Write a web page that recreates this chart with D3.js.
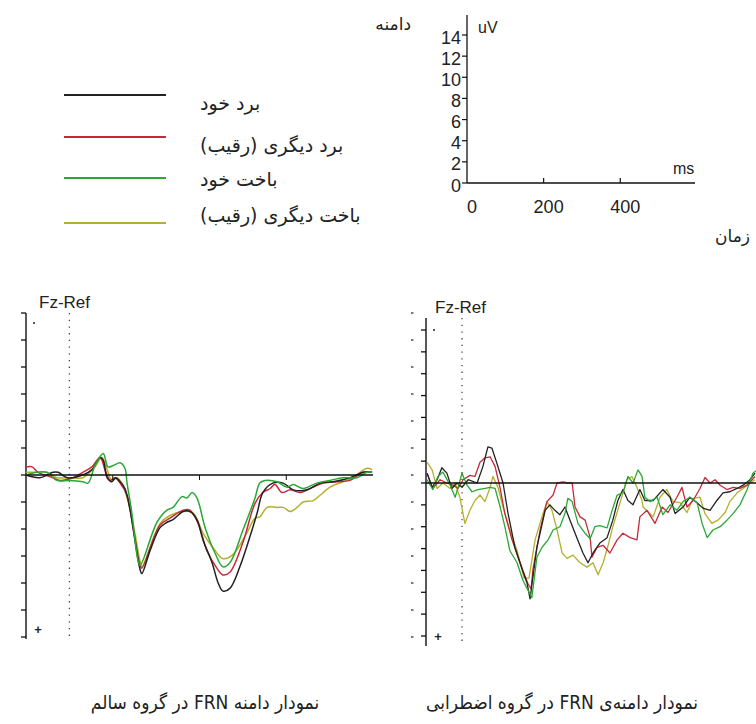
<!DOCTYPE html>
<html>
<head>
<meta charset="utf-8">
<script src="https://cdn.jsdelivr.net/npm/d3@7"></script>
<style>
body { margin: 0; background: #fff; }
svg { display: block; }
.fa { font-family: "DejaVu Sans", sans-serif; direction: rtl; }
.fa-narrow { font-family: "DejaVu Sans Condensed", "DejaVu Sans", sans-serif; direction: rtl; }
.lat { font-family: "Liberation Sans", Arial, sans-serif; }
</style>
</head>
<body>
<div id="chart"></div>
<script>
// scale reference (top right)
const refTimeTicks = [0, 200, 400];
const refAmpTicks = [0, 2, 4, 6, 8, 10, 12, 14];

// legend
const conditions = ["برد خود", "برد دیگری (رقیب)", "باخت خود", "باخت دیگری (رقیب)"];
const conditionColors = ["#222222", "#c8283c", "#2aa836", "#b4b02c"];

// panel axes (ms / uV, negative up)
const healthyAmpTicks = [-12, -10, -8, -6, -4, -2, 0, 2, 4, 6, 8, 10, 12];
const anxiousAmpTicks = [-14, -12, -10, -8, -6, -4, -2, 0, 2, 4, 6, 8, 10, 12, 14];
const healthyTimeTicks = [100, 300, 500];

// healthy group, [ms, uV]
const healthyWinSelf = [[-100,0],[-68,0.2],[-38,-0.2],[-26,-0.2],[-5,0.2],[31,0],[52,-0.4],[71,-1.3],[78,-1.1],[87,0.2],[98,0.5],[107,0.2],[117,0.5],[128,1.0],[140,2.6],[151,4.8],[163,7.0],[167,7.3],[186,5.6],[209,3.9],[225,3.5],[239,3.3],[262,2.7],[278,2.7],[294,3.3],[308,4.8],[329,6.5],[343,8.0],[354,8.6],[370,8.4],[393,6.8],[416,4.6],[433,2.8],[446,1.3],[469,0.6],[493,0.6],[516,1.1],[548,1.1],[578,0.6],[608,0.5],[647,0.2],[677,-0.2],[698,-0.2]];
const healthyWinOther = [[-100,-0.6],[-86,-0.6],[-72,-0.2],[-38,0.2],[-22,0.4],[8,0.2],[31,-0.2],[52,-0.6],[71,-1.3],[82,-0.4],[94,0.4],[105,0.2],[117,0.6],[133,1.5],[147,3.9],[163,6.7],[167,6.9],[209,3.7],[232,3.2],[262,2.6],[278,2.6],[297,3.6],[317,5.6],[340,6.9],[354,7.4],[370,7.2],[400,5.0],[428,2.1],[446,1.3],[463,1.0],[474,0.7],[490,1.3],[509,1.1],[532,1.3],[562,0.9],[585,0.6],[617,0.5],[647,0.4],[677,-0.2],[698,-0.2]];
const healthyLoseSelf = [[-100,0],[-75,-0.2],[-52,-0.2],[-29,0.4],[1,0.4],[31,0.5],[43,0.6],[59,-0.7],[78,-1.6],[89,-0.6],[101,-0.7],[117,-0.9],[128,-0.5],[133,0.6],[144,2.8],[158,6.3],[163,6.7],[202,3.5],[225,2.6],[239,2.4],[260,1.6],[271,1.7],[283,1.3],[294,1.7],[313,3.9],[336,5.8],[354,6.8],[370,6.5],[400,4.1],[428,1.7],[439,0.6],[451,0.4],[479,0.5],[502,0.9],[516,0.7],[539,1.0],[570,0.6],[601,0.4],[631,0.2],[663,0.2],[686,-0.2],[698,-0.2]];
const healthyLoseOther = [[-100,-0.2],[-75,-0.2],[-52,-0.2],[-29,0.2],[1,0.2],[31,0.2],[59,-0.6],[75,-1.3],[87,-0.4],[98,0.4],[110,0.2],[121,0.6],[135,1.9],[151,4.3],[163,6.4],[167,6.8],[209,3.6],[232,3.0],[262,2.7],[285,2.8],[308,4.3],[336,5.6],[354,6.2],[377,5.9],[409,4.3],[428,3.2],[439,3.1],[456,2.4],[479,2.4],[493,2.4],[509,2.7],[525,2.4],[539,2.0],[562,1.9],[578,1.5],[601,0.9],[631,0.5],[654,0.2],[670,-0.2],[686,-0.5],[698,-0.4]];

// anxious group, [ms, uV]
const anxiousWinSelf = [[-97,-0.9],[-83,0.4],[-69,-0.3],[-56,-1.4],[-42,-0.9],[-28,0.5],[-14,0],[0,0.4],[17,-0.3],[42,0],[58,-1.5],[72,-3.3],[83,-3.2],[97,-1.8],[114,0],[128,2.8],[147,5.9],[161,7.3],[181,9.2],[189,10.6],[208,5.9],[231,2.5],[244,2.0],[258,2.5],[272,2.9],[286,2.2],[300,3.4],[319,5.0],[336,6.4],[350,7.3],[364,6.4],[383,5.5],[403,5.0],[419,3.4],[433,1.6],[447,0.6],[461,1.6],[475,2.0],[494,0.6],[508,1.6],[531,1.6],[558,0.6],[578,1.3],[592,2.8],[614,2.2],[633,1.3],[653,1.8],[669,2.3],[689,2.5],[708,1.6],[725,0.9],[744,0.8],[764,0.5],[781,0.2],[800,-0.3],[814,-0.9]];
const anxiousWinOther = [[-97,-0.9],[-81,0.5],[-61,-0.3],[-42,0],[-25,0.2],[-11,0.5],[3,-0.3],[22,-0.7],[36,-0.6],[50,-1.9],[64,-2.3],[78,-2.4],[92,-1.5],[106,0.5],[119,2.8],[139,5.2],[156,6.8],[169,8.0],[183,9.2],[192,9.7],[197,7.9],[217,4.3],[236,1.7],[253,1.1],[264,0],[281,-0.1],[294,0],[306,0],[314,2.2],[328,3.1],[342,3.4],[356,5.0],[361,6.8],[375,5.9],[392,5.7],[411,6.4],[431,5.2],[447,4.6],[467,5.0],[486,5.2],[494,3.1],[514,2.5],[536,3.7],[556,2.2],[572,2.7],[597,1.3],[611,0.4],[625,2.2],[642,1.6],[661,0.5],[675,-0.5],[689,0],[703,-0.3],[717,0.2],[736,0.6],[753,0.4],[772,0.5],[792,0.2],[814,-0.6]];
const anxiousLoseSelf = [[-97,-0.3],[-81,0.6],[-67,-0.6],[-53,-1.0],[-33,0.2],[-19,1.3],[-11,0.4],[0,-0.9],[14,0.2],[28,0.8],[44,0.6],[64,0.5],[78,0.4],[92,0.5],[106,2.2],[119,4.0],[133,6.2],[153,7.3],[169,8.9],[183,9.8],[194,10.5],[208,6.8],[222,5.9],[239,5.2],[253,4.3],[272,4.0],[286,2.8],[294,1.4],[306,1.7],[322,3.7],[342,4.6],[356,5.1],[369,4.0],[383,3.9],[403,4.1],[417,2.5],[431,1.1],[447,0.9],[461,-0.6],[475,0],[489,-1.2],[500,-0.6],[508,1.3],[522,1.7],[542,1.3],[558,2.9],[578,2.0],[597,2.5],[614,1.7],[633,1.3],[653,1.8],[667,3.7],[681,5.0],[697,4.3],[717,4.0],[736,3.4],[753,2.8],[772,2.0],[792,0.6],[808,-0.9],[820,-1.2]];
const anxiousLoseOther = [[-97,-1.9],[-83,-1.2],[-69,0.5],[-53,0],[-33,0.5],[-19,0],[-6,1.3],[8,3.7],[22,2.5],[36,1.6],[50,1.1],[64,1.7],[78,0.4],[86,-0.6],[100,0.4],[114,2.2],[133,4.3],[153,6.2],[167,8.0],[172,8.7],[186,8.7],[203,5.2],[222,3.1],[236,1.7],[250,2.5],[264,4.3],[278,6.4],[292,6.9],[308,6.6],[328,7.3],[347,7.7],[364,7.3],[378,8.4],[392,7.3],[406,5.7],[419,4.0],[439,1.8],[458,-0.3],[472,-0.6],[486,0.4],[500,1.6],[503,2.2],[531,3.1],[550,1.3],[569,0.6],[586,1.7],[606,1.8],[625,2.7],[642,1.4],[661,1.3],[675,2.8],[694,3.7],[711,3.4],[731,2.7],[744,1.7],[764,0.9],[781,0.5],[800,0],[814,-0.3]];

const panelTitles = ["نمودار دامنه FRN در گروه سالم", "نمودار دامنه\u200cی FRN در گروه اضطرابی"];

var width = 756, height = 724;
var svg = d3.select("#chart").append("svg")
    .attr("width", width)
    .attr("height", height);

// ---------- scale reference ----------
var xr = d3.scaleLinear().domain([0, 595]).range([467, 695]);
var yr = d3.scaleLinear().domain([0, 14]).range([183, 35]);
var ref = svg.append("g").attr("class", "lat");

ref.append("line").attr("x1", xr(0)).attr("x2", xr(0)).attr("y1", 15).attr("y2", yr(0))
    .attr("stroke", "#111").attr("stroke-width", 1.3);
ref.append("line").attr("x1", xr(0)).attr("x2", xr(595)).attr("y1", yr(0)).attr("y2", yr(0))
    .attr("stroke", "#111").attr("stroke-width", 1.3);

ref.selectAll(".ytick").data(refAmpTicks).enter().append("line")
    .attr("x1", xr(0) - 5).attr("x2", xr(0))
    .attr("y1", d => yr(d)).attr("y2", d => yr(d))
    .attr("stroke", "#111").attr("stroke-width", 1.2);
ref.selectAll(".ylab").data(refAmpTicks).enter().append("text")
    .attr("x", xr(0) - 6).attr("y", d => yr(d) + 8.5)
    .attr("text-anchor", "end").attr("font-size", 18).attr("fill", "#222")
    .text(d => d);

ref.selectAll(".xtick").data(refTimeTicks.slice(1)).enter().append("line")
    .attr("x1", d => xr(d)).attr("x2", d => xr(d))
    .attr("y1", yr(0) - 5).attr("y2", yr(0))
    .attr("stroke", "#111").attr("stroke-width", 1.2);
ref.selectAll(".xlab").data(refTimeTicks).enter().append("text")
    .attr("x", d => xr(d) + 5).attr("y", 213)
    .attr("text-anchor", "middle").attr("font-size", 18).attr("fill", "#222")
    .text(d => d);

ref.append("text").attr("x", 478).attr("y", 33).attr("font-size", 16).attr("fill", "#222").text("uV");
ref.append("text").attr("x", 673).attr("y", 174).attr("font-size", 16).attr("fill", "#222").text("ms");

svg.append("text").attr("class", "fa").attr("x", 411).attr("y", 30)
    .attr("font-size", 17).attr("fill", "#222")
    .text("دامنه");
svg.append("text").attr("class", "fa").attr("x", 750).attr("y", 242)
    .attr("font-size", 17).attr("fill", "#222")
    .text("زمان");

// ---------- legend ----------
var legendY = [95, 137, 178, 223];
var legendTextY = [110, 152, 186, 222];
var legend = svg.append("g");
legend.selectAll("line").data(conditions).enter().append("line")
    .attr("x1", 64).attr("x2", 166)
    .attr("y1", (d, i) => legendY[i]).attr("y2", (d, i) => legendY[i])
    .attr("stroke", (d, i) => conditionColors[i]).attr("stroke-width", 2);
legend.selectAll("text").data(conditions).enter().append("text")
    .attr("class", "fa")
    .attr("x", 200).attr("y", (d, i) => legendTextY[i])
    .attr("text-anchor", "end")
    .attr("font-size", 19).attr("fill", "#222")
    .text(d => d);

// ---------- ERP panels ----------
function drawPanel(opt) {
    var g = svg.append("g");
    var x = opt.x, y = opt.y;
    var x0 = x.range()[0];

    // stimulus onset
    g.append("line").attr("x1", x(0)).attr("x2", x(0))
        .attr("y1", opt.top).attr("y2", opt.bottom)
        .attr("stroke", "#444").attr("stroke-width", 1.3)
        .attr("stroke-dasharray", "1.3,5.4");

    // vertical axis
    g.append("line").attr("x1", x0).attr("x2", x0)
        .attr("y1", opt.top).attr("y2", opt.bottom)
        .attr("stroke", "#111").attr("stroke-width", 1.4);
    g.selectAll(".tick").data(opt.ampTicks).enter().append("line")
        .attr("x1", x0 - 5).attr("x2", x0)
        .attr("y1", d => y(d)).attr("y2", d => y(d))
        .attr("stroke", "#111").attr("stroke-width", 1.3);

    // curves
    var line = d3.line()
        .x(d => x(d[0]))
        .y(d => y(d[1]))
        .curve(opt.curve);
    var order = [3, 1, 0, 2];
    order.forEach(function(i) {
        g.append("path")
            .attr("d", line(opt.series[i]))
            .attr("fill", "none")
            .attr("stroke", conditionColors[i])
            .attr("stroke-width", opt.lineWidth)
            .attr("stroke-linejoin", "round");
    });

    // zero line
    g.append("line").attr("x1", x0).attr("x2", x.range()[1])
        .attr("y1", y(0)).attr("y2", y(0))
        .attr("stroke", "#111").attr("stroke-width", 1.6);
    g.selectAll(".ttick").data(opt.timeTicks).enter().append("line")
        .attr("x1", d => x(d)).attr("x2", d => x(d))
        .attr("y1", y(0)).attr("y2", y(0) + 5)
        .attr("stroke", "#111").attr("stroke-width", 1);

    g.append("text").attr("class", "lat")
        .attr("x", opt.labelX).attr("y", opt.labelY)
        .attr("font-size", 17).attr("fill", "#222").text("Fz-Ref");
    g.append("line").attr("x1", x0 + 7).attr("x2", x0 + 9)
        .attr("y1", opt.minusY).attr("y2", opt.minusY)
        .attr("stroke", "#222").attr("stroke-width", 1.6);
    g.append("text").attr("class", "lat")
        .attr("x", x0 + 12).attr("y", opt.plusY)
        .attr("text-anchor", "middle")
        .attr("font-size", 13).attr("font-weight", "bold").attr("fill", "#222").text("+");

    g.append("text").attr("class", "fa-narrow")
        .attr("x", opt.titleX).attr("y", 709)
        .attr("text-anchor", "middle")
        .attr("font-size", 19).attr("fill", "#222")
        .text(opt.title);
    return g;
}

var healthyX = d3.scaleLinear().domain([-100, 700]).range([26, 373]);
var healthyY = d3.scaleLinear().domain([-12, 12]).range([313, 637]);
drawPanel({
    x: healthyX, y: healthyY, top: 313, bottom: 639,
    ampTicks: healthyAmpTicks, timeTicks: healthyTimeTicks,
    series: [healthyWinSelf, healthyWinOther, healthyLoseSelf, healthyLoseOther],
    curve: d3.curveCatmullRom, lineWidth: 1.5,
    labelX: 39, labelY: 308, minusY: 323, plusY: 634,
    titleX: 205, title: panelTitles[0]
});

var anxiousX = d3.scaleLinear().domain([-100, 820]).range([426, 757.2]);
var anxiousY = d3.scaleLinear().domain([-14, 14]).range([330, 636]);
var anxious = drawPanel({
    x: anxiousX, y: anxiousY, top: 318, bottom: 646,
    ampTicks: anxiousAmpTicks, timeTicks: [],
    series: [anxiousWinSelf, anxiousWinOther, anxiousLoseSelf, anxiousLoseOther],
    curve: d3.curveLinear, lineWidth: 1.3,
    labelX: 435, labelY: 313, minusY: 330, plusY: 641,
    titleX: 562, title: panelTitles[1]
});

// faint tick marks left of the anxious axis
anxious.selectAll(".ghost").data(healthyAmpTicks).enter().append("line")
    .attr("x1", 411).attr("x2", 413.5)
    .attr("y1", d => healthyY(d)).attr("y2", d => healthyY(d))
    .attr("stroke", "#333").attr("stroke-width", 1.3);
</script>
</body>
</html>
